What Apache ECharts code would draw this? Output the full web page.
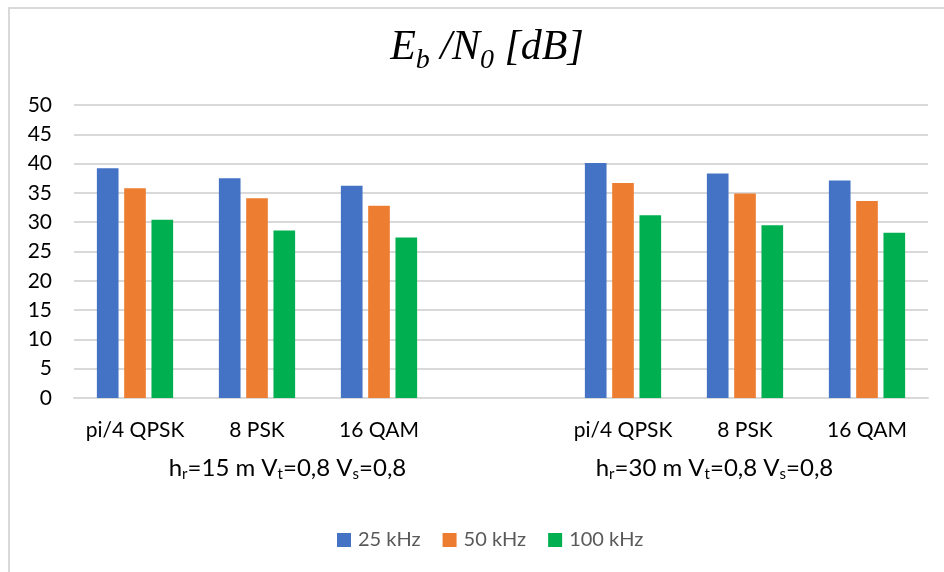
<!DOCTYPE html>
<html>
<head>
<meta charset="utf-8">
<script src="https://cdn.jsdelivr.net/npm/echarts@6/dist/echarts.min.js"></script>
<style>
  html, body { margin: 0; padding: 0; background: #fff; }
  #chart { width: 944px; height: 572px; }
</style>
</head>
<body>
<div id="chart"></div>
<script>
// Modulation schemes, with an empty slot separating the two antenna-height groups
const categories = ['pi/4 QPSK', '8 PSK', '16 QAM', '', 'pi/4 QPSK', '8 PSK', '16 QAM'];
// Group captions (rich-text markup: m = main text, s = subscript)
const groupLabels = [
  '{m|h}{s|r}{m|=15 m V}{s|t}{m|=0,8 V}{s|s}{m|=0,8}',
  '{m|h}{s|r}{m|=30 m V}{s|t}{m|=0,8 V}{s|s}{m|=0,8}'
];
const seriesNames = ['25 kHz', '50 kHz', '100 kHz'];
// Eb/N0 in dB
const eb25 = [39.2, 37.5, 36.2, null, 40.1, 38.3, 37.1];
const eb50 = [35.8, 34.1, 32.8, null, 36.7, 34.9, 33.6];
const eb100 = [30.4, 28.6, 27.4, null, 31.2, 29.5, 28.2];
const yTicks = { min: 0, max: 50, interval: 5 };

const colors = ['#4472C4', '#ED7D31', '#00B050'];
const labelFont = 'Lato, "Open Sans", sans-serif';
const titleFont = '"Liberation Serif", "DejaVu Serif", serif';

const chart = echarts.init(document.getElementById('chart'), null, { renderer: 'canvas' });

const makeBar = (name, data, color) => ({
  name, type: 'bar', data,
  itemStyle: { color },
  barGap: '26%',
  barCategoryGap: '37.5%'
});

chart.setOption({
  backgroundColor: '#ffffff',
  animation: false,
  color: colors,
  title: {
    text: '{i|E}{sub|b}{i| /N}{sub|0}{i| [dB]}',
    left: 482,
    top: 22,
    textAlign: 'center',
    textStyle: {
      fontWeight: 'normal',
      rich: {
        i: { fontFamily: titleFont, fontStyle: 'italic', fontWeight: 'normal', fontSize: 42, lineHeight: 46, color: '#000', verticalAlign: 'top' },
        sub: { fontFamily: titleFont, fontStyle: 'italic', fontWeight: 'normal', fontSize: 28, lineHeight: 28, padding: [20, 0, 0, 0], color: '#000', verticalAlign: 'top' }
      }
    }
  },
  legend: {
    data: seriesNames,
    left: 332,
    top: 525,
    itemWidth: 14,
    itemHeight: 14,
    itemGap: 22,
    icon: 'rect',
    textStyle: { fontFamily: labelFont, fontSize: 20, color: '#595959', padding: [0, 0, 0, 2] }
  },
  grid: { left: 74, right: 16, top: 105, bottom: 174, containLabel: false },
  xAxis: [
    {
      type: 'category',
      data: categories,
      position: 'bottom',
      axisLine: { show: true, lineStyle: { color: '#d9d9d9', width: 2 } },
      axisTick: { show: false },
      axisLabel: { fontFamily: labelFont, fontSize: 21, color: '#000', margin: 22, interval: 0 }
    },
    {
      type: 'category',
      data: groupLabels,
      position: 'bottom',
      offset: 48,
      axisLine: { show: false },
      axisTick: { show: false },
      splitLine: { show: false },
      axisLabel: {
        interval: 0, margin: 8,
        rich: {
          m: { fontFamily: labelFont, fontSize: 24, color: '#000', lineHeight: 28, verticalAlign: 'middle' },
          s: { fontFamily: labelFont, fontSize: 15, color: '#000', lineHeight: 4, verticalAlign: 'bottom' }
        }
      }
    }
  ],
  yAxis: {
    type: 'value',
    min: yTicks.min, max: yTicks.max, interval: yTicks.interval,
    axisLine: { show: false },
    axisTick: { show: false },
    splitLine: { lineStyle: { color: '#d9d9d9', width: 2 } },
    axisLabel: { fontFamily: labelFont, fontSize: 21, color: '#000', margin: 22 }
  },
  graphic: [
    {
      type: 'polyline',
      shape: { points: [[9, 572], [9, 8], [944, 8]] },
      style: { stroke: '#d9d9d9', lineWidth: 2, fill: null },
      silent: true
    }
  ],
  series: [
    makeBar(seriesNames[0], eb25, colors[0]),
    makeBar(seriesNames[1], eb50, colors[1]),
    makeBar(seriesNames[2], eb100, colors[2])
  ]
});
</script>
</body>
</html>
